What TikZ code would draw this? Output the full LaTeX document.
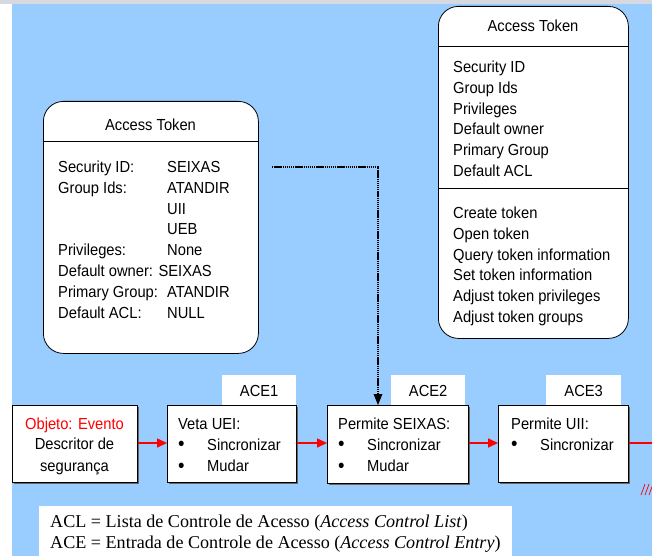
\documentclass[tikz,border=0pt]{standalone}
\usepackage{fontspec}
\setmainfont{Liberation Sans}[FakeStretch=0.92]
\newfontfamily\legendfont{Liberation Serif}
\usetikzlibrary{arrows.meta,shadows}
\definecolor{sky}{HTML}{99CCFF}
\definecolor{alert}{HTML}{FF0000}
\definecolor{topbar}{HTML}{D6DAE0}
\tikzset{
  tokenbox/.style={draw=black, line width=0.8pt, fill=white, rounded corners=20pt, inner sep=0pt},
  acebox/.style={draw=black, line width=0.8pt, fill=white, inner sep=0pt, anchor=north west,
    drop shadow={shadow xshift=1.3pt, shadow yshift=-1.3pt, fill=black!60, opacity=1}},
  tabbox/.style={fill=white, inner sep=0pt, anchor=north west},
  body/.style={inner sep=0pt, font=\fontsize{16}{20.8}\selectfont},
  txt/.style={body, anchor=base west},
  ctxt/.style={body, anchor=base},
  legendtxt/.style={anchor=base west, inner sep=0pt, font=\legendfont\fontsize{18.1}{21}\selectfont},
  link/.style={draw=alert, line width=1.6pt, -{Triangle[length=10pt,width=9pt]}},
  ref/.style={line width=2pt, dash pattern=on 1.4pt off 0.7pt, -{Triangle[length=11pt,width=9pt,line width=0pt]}},
}
\newcommand{\lbl}[1]{\makebox[109pt][l]{#1}}
\newcommand{\itm}[1]{\makebox[29pt][l]{\raisebox{-0.6pt}{\fontsize{20}{20}\selectfont\textbullet}}#1}
\begin{document}
\begin{tikzpicture}[x=1pt,y=-1pt]
  \useasboundingbox (0,0) rectangle (652,556);
  % page background
  \fill[white] (0,0) rectangle (652,556);
  \fill[topbar] (0,0) rectangle (652,4);
  \fill[sky] (12,4) rectangle (652,556);

  % full access token description (right)
  \node[tokenbox, minimum width=190pt, minimum height=332pt, anchor=north west] (tok) at (438,6) {};
  \draw[line width=0.8pt] (tok.west |- 0,46) -- (tok.east |- 0,46);
  \draw[line width=0.8pt] (tok.west |- 0,188) -- (tok.east |- 0,188);
  \node[ctxt] (toktitle) at (533,31.5) {Access Token};
  \foreach \t [count=\i] in {Security ID,Group Ids,Privileges,Default owner,Primary Group,Default ACL}
    \node[txt] (tokf\i) at (453,72.5+20.8*\i-20.8) {\t};
  \foreach \t [count=\i] in {Create token,Open token,Query token information,Set token information,Adjust token privileges,Adjust token groups}
    \node[txt] (toko\i) at (453,218.5+20.8*\i-20.8) {\t};

  % concrete access token (left)
  \node[tokenbox, minimum width=215pt, minimum height=252pt, anchor=north west] (usr) at (43,101) {};
  \draw[line width=0.8pt] (usr.west |- 0,141) -- (usr.east |- 0,141);
  \node[ctxt] (usrtitle) at (150.5,130.5) {Access Token};
  \foreach \t [count=\i] in {\lbl{Security ID:}SEIXAS,\lbl{Group Ids:}ATANDIR,\lbl{}UII,\lbl{}UEB,\lbl{Privileges:}None,Default owner: SEIXAS,\lbl{Primary Group:}ATANDIR,\lbl{Default ACL:}NULL}
    \node[txt] (usrf\i) at (58,172.5+20.8*\i-20.8) {\t};

  % security descriptor and ACE chain
  \node[acebox, minimum width=125pt, minimum height=77pt] (obj) at (12,405) {};
  \node[ctxt, text=alert] (objt1) at (74.5,429) {Objeto: Evento};
  \node[ctxt] (objt2) at (74.5,449.5) {Descritor de};
  \node[ctxt] (objt3) at (74.5,471) {segurança};

  \node[tabbox, minimum width=74pt, minimum height=31pt] (tab1) at (222,375) {};
  \node[body] (tab1t) at (tab1.center) {ACE1};
  \node[acebox, minimum width=129pt, minimum height=77pt] (ace1) at (167,405) {};
  \node[txt] (ace1t1) at (178,429) {Veta UEI:};
  \node[txt] (ace1t2) at (178,450) {\itm{Sincronizar}};
  \node[txt] (ace1t3) at (178,471.5) {\itm{Mudar}};

  \node[tabbox, minimum width=74pt, minimum height=31pt] (tab2) at (391,375) {};
  \node[body] (tab2t) at (tab2.center) {ACE2};
  \node[acebox, minimum width=141pt, minimum height=78pt] (ace2) at (327,405) {};
  \node[txt] (ace2t1) at (338,429) {Permite SEIXAS:};
  \node[txt] (ace2t2) at (338,450) {\itm{Sincronizar}};
  \node[txt] (ace2t3) at (338,471.5) {\itm{Mudar}};

  \node[tabbox, minimum width=75pt, minimum height=31pt] (tab3) at (546,375) {};
  \node[body] (tab3t) at (tab3.center) {ACE3};
  \node[acebox, minimum width=130pt, minimum height=77pt] (ace3) at (498,405) {};
  \node[txt] (ace3t1) at (511,429) {Permite UII:};
  \node[txt] (ace3t2) at (511,450) {\itm{Sincronizar}};

  % chain links
  \draw[link] (obj.east |- 0,443) -- (ace1.west |- 0,443);
  \draw[link] (ace1.east |- 0,443) -- (ace2.west |- 0,443);
  \draw[link] (ace2.east |- 0,443) -- (ace3.west |- 0,443);
  \coordinate (chainend) at (652,443);
  \draw[draw=alert, line width=1.2pt] (ace3.east |- chainend) -- (chainend);
  \draw[alert, line width=0.7pt] (641,495) -- (645,484) (645,495) -- (649,484) (649,495) -- (653,484);

  % SID reference from the token to ACE2
  \coordinate (sidstart) at (272,167);
  \coordinate (sidturn) at (378,167);
  \draw[ref] (sidstart) -- (sidturn) -- (sidturn |- ace2.north);

  % legend
  \fill[white] (39,506) rectangle (512,556);
  \node[legendtxt] (legend1) at (50,527.5) {ACL = Lista de Controle de Acesso (\textit{Access Control List})};
  \node[legendtxt] (legend2) at (50,548.5) {ACE = Entrada de Controle de Acesso (\textit{Access Control Entry})};
\end{tikzpicture}
\end{document}
